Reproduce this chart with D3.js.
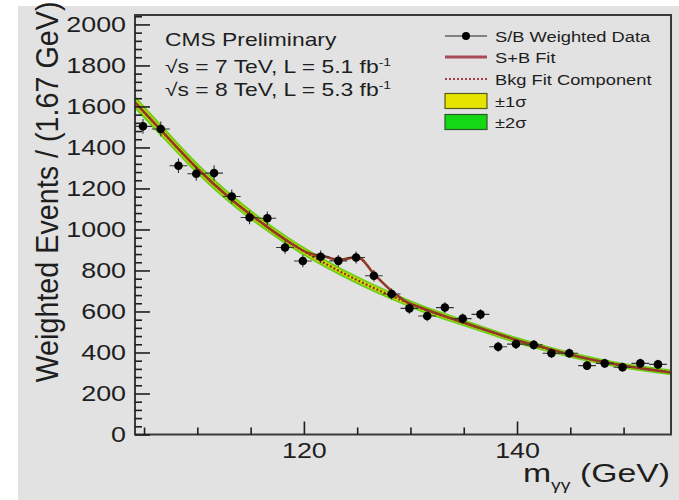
<!DOCTYPE html>
<html>
<head>
<meta charset="utf-8">
<script src="https://cdn.jsdelivr.net/npm/d3@7"></script>
<style>
  html, body { margin: 0; padding: 0; background: #ffffff; }
  svg { display: block; }
  text { font-family: "Liberation Sans", Arial, Helvetica, sans-serif; fill: #1e1e1e; }
</style>
</head>
<body>
<svg id="chart" width="679" height="500"></svg>
<script>
// ---------------- DATA ----------------
const massPoints = [104.9, 106.57, 108.23, 109.9, 111.57, 113.23, 114.9, 116.57, 118.23, 119.9,
                    121.57, 123.23, 124.9, 126.57, 128.23, 129.9, 131.57, 133.23, 134.9, 136.57,
                    138.23, 139.9, 141.57, 143.23, 144.9, 146.57, 148.23, 149.9, 151.57, 153.23];
const weightedEvents = [1503, 1490, 1311, 1272, 1275, 1161, 1058, 1055, 912, 846,
                        867, 847, 863, 774, 685, 615, 578, 619, 565, 586,
                        428, 441, 437, 396, 396, 336, 347, 328, 347, 342];
const eventErrors = [36, 36, 35, 35, 38, 34, 33, 33, 31, 30,
                     30, 29, 29, 28, 27, 26, 26, 26, 25, 25,
                     24, 24, 24, 23, 23, 22, 22, 22, 22, 22];
const binHalfWidth = 0.833;

const bkgMass = [104.15, 106.8, 109.9, 113.0, 116.1, 119.3, 122.0, 125.0, 128.0, 131.0,
                 134.0, 137.0, 140.0, 143.0, 146.0, 149.0, 152.0, 154.45];
const bkgFit  = [1620, 1472, 1302, 1155, 1030, 916, 834, 753, 681, 616,
                 562, 510, 459, 416, 377, 345, 320, 303];
const sigma1Half = [17, 16, 15, 14, 13, 12, 11, 10, 10, 9, 9, 8, 8, 8, 7, 7, 7, 7];
const sigma2Half = [32, 30, 28, 26, 24, 22, 21, 20, 19, 18, 17, 16, 16, 15, 15, 14, 14, 14];

const sbMass = [104.15, 106.8, 109.9, 113.0, 116.1, 119.3, 120.4, 121.8, 123.4, 125.0,
                126.7, 128.3, 129.5, 131.0, 134.0, 137.0, 140.0, 143.0, 146.0, 149.0, 152.0, 154.45];
const sbFit  = [1620, 1472, 1302, 1155, 1030, 916, 885, 870, 852, 866,
                776, 697, 650, 618, 563, 511, 460, 417, 377, 345, 320, 302];

const xMajorTicks = [120, 140];
const xMinorTicks = [105, 110, 115, 125, 130, 135, 145, 150];
const yMajorTicks = [0, 200, 400, 600, 800, 1000, 1200, 1400, 1600, 1800, 2000];
const yMinorTicks = [40, 80, 120, 160, 240, 280, 320, 360, 440, 480, 520, 560, 640, 680, 720, 760,
                     840, 880, 920, 960, 1040, 1080, 1120, 1160, 1240, 1280, 1320, 1360,
                     1440, 1480, 1520, 1560, 1640, 1680, 1720, 1760, 1840, 1880, 1920, 1960, 2040];

const legendLabels = ["S/B Weighted Data", "S+B Fit", "Bkg Fit Component", "\u00b11\u03c3", "\u00b12\u03c3"];
const titleLines = ["CMS Preliminary", "\u221as = 7 TeV, L = 5.1 fb", "\u221as = 8 TeV, L = 5.3 fb"];
const titleSup = ["", "-1", "-1"];
const yTitle = "Weighted Events / (1.67 GeV)";

// ---------------- LAYOUT ----------------
const svg = d3.select("#chart");
const L = 135, R = 671, T = 15, B = 434.5;
const x = d3.scaleLinear().domain([104.15, 154.45]).range([L, R]);
const y = d3.scaleLinear().domain([0, 2046]).range([B, T]);
const SX = 1.22; // horizontal stretch of the reference glyphs

// page background
svg.append("rect").attr("x", 18).attr("y", 6).attr("width", 661).attr("height", 494).attr("fill", "#e2e2e2");

// clip for plot contents
svg.append("clipPath").attr("id", "plotclip")
  .append("rect").attr("x", L).attr("y", T).attr("width", R - L).attr("height", B - T);
const plot = svg.append("g").attr("clip-path", "url(#plotclip)");

// bands
const idx = d3.range(bkgMass.length);
const band = (half) => d3.area()
  .x(i => x(bkgMass[i]))
  .y0(i => y(bkgFit[i] - half[i]))
  .y1(i => y(bkgFit[i] + half[i]))
  .curve(d3.curveMonotoneX);
plot.append("path").attr("d", band(sigma2Half)(idx)).attr("fill", "#6ccf18");
plot.append("path").attr("d", band(sigma1Half)(idx)).attr("fill", "#d6d60a");

// background fit component (dotted)
plot.append("path")
  .attr("d", d3.line().x(i => x(bkgMass[i])).y(i => y(bkgFit[i])).curve(d3.curveMonotoneX)(idx))
  .attr("fill", "none").attr("stroke", "#7a3a1a").attr("stroke-width", 2.2)
  .attr("stroke-dasharray", "2,2");

// S+B fit
const sIdx = d3.range(sbMass.length);
plot.append("path")
  .attr("d", d3.line().x(i => x(sbMass[i])).y(i => y(sbFit[i])).curve(d3.curveMonotoneX)(sIdx))
  .attr("fill", "none").attr("stroke", "#8e3a24").attr("stroke-width", 2.6);

// data points with error bars
const pts = plot.append("g");
massPoints.forEach((m, i) => {
  const v = weightedEvents[i], e = eventErrors[i];
  pts.append("line").attr("x1", x(m - binHalfWidth)).attr("x2", x(m + binHalfWidth))
    .attr("y1", y(v)).attr("y2", y(v)).attr("stroke", "#333").attr("stroke-width", 1.1);
  pts.append("line").attr("x1", x(m)).attr("x2", x(m))
    .attr("y1", y(v - e)).attr("y2", y(v + e)).attr("stroke", "#333").attr("stroke-width", 1.1);
  pts.append("circle").attr("cx", x(m)).attr("cy", y(v)).attr("r", 4.3).attr("fill", "#000");
});

// frame
svg.append("rect").attr("x", L).attr("y", T).attr("width", R - L).attr("height", B - T)
  .attr("fill", "none").attr("stroke", "#3a3a3a").attr("stroke-width", 2);

// axes
const yAxisMajor = d3.axisLeft(y).tickValues(yMajorTicks).tickSize(-15).tickSizeOuter(0).tickPadding(9)
  .tickFormat(d3.format("d"));
const yAxisMinor = d3.axisLeft(y).tickValues(yMinorTicks).tickSize(-7).tickSizeOuter(0).tickFormat("");
const xAxisMajor = d3.axisBottom(x).tickValues(xMajorTicks).tickSize(-13).tickSizeOuter(0).tickPadding(8)
  .tickFormat(d3.format("d"));
const xAxisMinor = d3.axisBottom(x).tickValues(xMinorTicks).tickSize(-7).tickSizeOuter(0).tickFormat("");

function styleAxis(g) {
  g.select(".domain").remove();
  g.selectAll(".tick line").attr("stroke", "#1e1e1e").attr("stroke-width", 1.6);
}
svg.append("g").attr("transform", `translate(${L},0)`).call(yAxisMinor).call(styleAxis);
const gy = svg.append("g").attr("transform", `translate(${L},0)`).call(yAxisMajor).call(styleAxis);
svg.append("g").attr("transform", `translate(0,${B})`).call(xAxisMinor).call(styleAxis);
const gx = svg.append("g").attr("transform", `translate(0,${B})`).call(xAxisMajor).call(styleAxis);

gy.selectAll(".tick text")
  .attr("x", -9 / SX).attr("transform", `scale(${SX},1)`)
  .style("font-size", "22px").attr("fill", "#1e1e1e");
gx.selectAll(".tick text")
  .attr("transform", `scale(${SX},1)`)
  .style("font-size", "22px").attr("fill", "#1e1e1e");

// axis titles
svg.append("text")
  .attr("transform", `translate(58,192) scale(1.2,1) rotate(-90)`)
  .attr("text-anchor", "middle").style("font-size", "26px")
  .attr("textLength", 381).attr("lengthAdjust", "spacingAndGlyphs")
  .text(yTitle);

const xt = svg.append("text")
  .attr("transform", `translate(670,482) scale(1.3,1)`)
  .attr("text-anchor", "end").style("font-size", "26px");
xt.append("tspan").text("m");
xt.append("tspan").attr("dy", 8).style("font-size", "15px").text("\u03b3\u03b3");
xt.append("tspan").attr("dy", -8).text(" (GeV)");

// CMS header text
const titleY = [45.5, 72.5, 96];
titleLines.forEach((t, i) => {
  const tx = svg.append("text")
    .attr("transform", `translate(165,${titleY[i]}) scale(1.27,1)`)
    .style("font-size", "18px");
  tx.append("tspan").text(t);
  if (titleSup[i]) tx.append("tspan").attr("dy", -7).style("font-size", "11px").text(titleSup[i]);
});

// legend
const lg = svg.append("g");
const legY = [36, 57, 79, 101, 122];
// data entry
lg.append("line").attr("x1", 445).attr("x2", 487).attr("y1", legY[0]).attr("y2", legY[0])
  .attr("stroke", "#222").attr("stroke-width", 1.2);
lg.append("circle").attr("cx", 466).attr("cy", legY[0]).attr("r", 4).attr("fill", "#000");
// S+B fit
lg.append("line").attr("x1", 445).attr("x2", 487).attr("y1", legY[1]).attr("y2", legY[1])
  .attr("stroke", "#a84a55").attr("stroke-width", 3);
// bkg component
lg.append("line").attr("x1", 445).attr("x2", 487).attr("y1", legY[2]).attr("y2", legY[2])
  .attr("stroke", "#a83a45").attr("stroke-width", 2).attr("stroke-dasharray", "2,2");
// bands
lg.append("rect").attr("x", 445).attr("y", legY[3] - 7.5).attr("width", 42).attr("height", 15)
  .attr("fill", "#e4e400").attr("stroke", "#5a5a20").attr("stroke-width", 1.2);
lg.append("rect").attr("x", 445).attr("y", legY[4] - 7.5).attr("width", 42).attr("height", 15)
  .attr("fill", "#14d814").attr("stroke", "#2a5a2a").attr("stroke-width", 1.2);
legendLabels.forEach((t, i) => {
  lg.append("text")
    .attr("transform", `translate(495,${legY[i] + 5.5}) scale(${SX},1)`)
    .style("font-size", "15px").text(t);
});
</script>
</body>
</html>
